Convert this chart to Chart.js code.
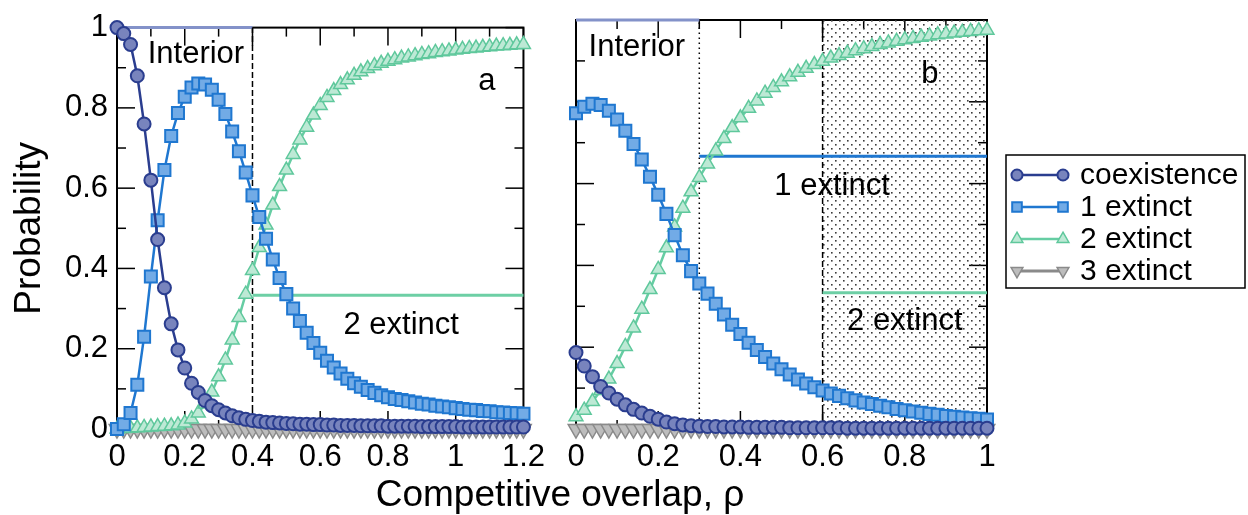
<!DOCTYPE html>
<html>
<head>
<meta charset="utf-8">
<script src="https://cdn.jsdelivr.net/npm/chart.js@4.4.1/dist/chart.umd.min.js"></script>
<style>
  body { margin: 0; background: #fff; }
  #wrap { position: relative; width: 1248px; height: 515px; overflow: hidden; }
  canvas { position: absolute; top: 0; }
  #xtitle { position: absolute; left: 0; width: 1120px; top: 475px; text-align: center;
            font: 37px "Liberation Sans", Arial, sans-serif; line-height: 37px; color: #000; }
</style>
</head>
<body>
<div id="wrap">
  <canvas id="chartA" width="555" height="515" style="left:0"></canvas>
  <canvas id="chartB" width="693" height="515" style="left:555px"></canvas>
  <div id="xtitle">Competitive overlap, ρ</div>
</div>
<script>
// panel a: rho from 0 to 1.2
const xA = [0,0.02,0.04,0.06,0.08,0.1,0.12,0.14,0.16,0.18,0.2,0.22,0.24,0.26,0.28,0.3,0.32,0.34,0.36,0.38,
  0.4,0.42,0.44,0.46,0.48,0.5,0.52,0.54,0.56,0.58,0.6,0.62,0.64,0.66,0.68,0.7,0.72,0.74,0.76,0.78,
  0.8,0.82,0.84,0.86,0.88,0.9,0.92,0.94,0.96,0.98,1,1.02,1.04,1.06,1.08,1.1,1.12,1.14,1.16,1.18,1.2];
const coexA = [1.0,0.985,0.958,0.88,0.76,0.62,0.472,0.352,0.262,0.197,
  0.152,0.114,0.091,0.071,0.058,0.048,0.04,0.033,0.028,0.024,
  0.021,0.019,0.017,0.016,0.015,0.014,0.013,0.012,0.012,0.011,
  0.011,0.01,0.01,0.009,0.009,0.009,0.008,0.008,0.008,0.008,
  0.007,0.007,0.007,0.007,0.007,0.006,0.006,0.006,0.006,0.006,
  0.006,0.005,0.005,0.005,0.005,0.005,0.005,0.005,0.005,0.005,0.005];
const ext1A = [0,0.012,0.04,0.11,0.23,0.38,0.52,0.645,0.73,0.787,
  0.828,0.851,0.861,0.858,0.845,0.82,0.785,0.741,0.692,0.639,
  0.582,0.528,0.474,0.422,0.376,0.336,0.3,0.269,0.24,0.214,
  0.19,0.17,0.153,0.138,0.125,0.114,0.105,0.097,0.09,0.084,
  0.079,0.075,0.072,0.069,0.066,0.063,0.061,0.058,0.056,0.054,
  0.052,0.05,0.048,0.047,0.045,0.044,0.042,0.041,0.04,0.039,0.038];
const ext2A = [0,0.001,0.002,0.003,0.004,0.005,0.006,0.007,0.008,0.01,
  0.015,0.025,0.04,0.062,0.092,0.13,0.172,0.222,0.278,0.336,
  0.395,0.452,0.508,0.558,0.604,0.645,0.684,0.72,0.752,0.782,
  0.806,0.826,0.843,0.858,0.87,0.881,0.89,0.898,0.905,0.911,
  0.916,0.92,0.924,0.927,0.93,0.933,0.935,0.938,0.94,0.942,
  0.944,0.946,0.948,0.949,0.951,0.952,0.954,0.955,0.956,0.957,0.958];
const ext3A = [0,0,0,0,0,0,0,0,0,0,0,0,0,0,0,0,0,0,0,0,0,0,0,0,0,0,0,0,0,0,
  0,0,0,0,0,0,0,0,0,0,0,0,0,0,0,0,0,0,0,0,0,0,0,0,0,0,0,0,0,0,0];

// panel b: rho from 0 to 1
const xB = [0,0.02,0.04,0.06,0.08,0.1,0.12,0.14,0.16,0.18,0.2,0.22,0.24,0.26,0.28,0.3,0.32,0.34,0.36,0.38,
  0.4,0.42,0.44,0.46,0.48,0.5,0.52,0.54,0.56,0.58,0.6,0.62,0.64,0.66,0.68,0.7,0.72,0.74,0.76,0.78,
  0.8,0.82,0.84,0.86,0.88,0.9,0.92,0.94,0.96,0.98,1];
const coexB = [0.187,0.154,0.128,0.104,0.088,0.073,0.059,0.048,0.039,0.031,
  0.024,0.017,0.013,0.01,0.008,0.007,0.006,0.006,0.005,0.005,
  0.005,0.004,0.004,0.004,0.004,0.004,0.003,0.003,0.003,0.003,
  0.003,0.003,0.003,0.002,0.002,0.002,0.002,0.002,0.002,0.002,
  0.002,0.002,0.002,0.002,0.002,0.002,0.002,0.002,0.002,0.002,0.002];
const ext1B = [0.772,0.788,0.795,0.792,0.778,0.757,0.729,0.697,0.659,0.617,
  0.573,0.526,0.474,0.425,0.386,0.356,0.331,0.306,0.28,0.255,
  0.232,0.211,0.193,0.176,0.16,0.146,0.133,0.121,0.111,0.102,
  0.094,0.087,0.081,0.075,0.07,0.065,0.061,0.057,0.053,0.049,
  0.046,0.043,0.04,0.037,0.035,0.032,0.03,0.028,0.026,0.025,0.023];
const ext2B = [0.03,0.046,0.067,0.094,0.122,0.16,0.202,0.247,0.293,0.341,
  0.39,0.443,0.494,0.54,0.58,0.615,0.648,0.68,0.71,0.737,
  0.761,0.784,0.802,0.821,0.835,0.849,0.861,0.872,0.882,0.891,
  0.899,0.907,0.913,0.919,0.925,0.93,0.935,0.94,0.944,0.948,
  0.952,0.955,0.958,0.961,0.964,0.966,0.968,0.97,0.972,0.974,0.975];
const ext3B = [0,0,0,0,0,0,0,0,0,0,0,0,0,0,0,0,0,0,0,0,0,0,0,0,0,
  0,0,0,0,0,0,0,0,0,0,0,0,0,0,0,0,0,0,0,0,0,0,0,0,0,0];

const seriesNames = ['coexistence', '1 extinct', '2 extinct', '3 extinct'];

// reference lines (rho, probability)
const interiorA = [[0, 1], [0.4, 1]];
const boundA = [[0.4, 0], [0.4, 1]];
const twoExtA = [[0.4, 1/3], [1.2, 1/3]];
const interiorB = [[0, 1], [0.3, 1]];
const dottedB = [[0.3, 0], [0.3, 1]];
const dashedB = [[0.6, 0], [0.6, 1]];
const oneExtB = [[0.3, 2/3], [1, 2/3]];
const twoExtB = [[0.6, 1/3], [1, 1/3]];
const shadeB = [[0.6, 1], [1, 1]];

// ticks
const xTicksA = [0, 0.2, 0.4, 0.6, 0.8, 1, 1.2];
const xMinorA = [0.1, 0.3, 0.5, 0.7, 0.9, 1.1];
const xTicksB = [0, 0.2, 0.4, 0.6, 0.8, 1];
const xMinorB = [0.1, 0.3, 0.5, 0.7, 0.9];
const yTicks = [0, 0.2, 0.4, 0.6, 0.8, 1];
const yMinor = [0.1, 0.3, 0.5, 0.7, 0.9];

const FONT = '"Liberation Sans", Arial, sans-serif';
Chart.defaults.font.family = FONT;
Chart.defaults.color = '#000';

const styles = [
  { borderColor: '#2a3d8f', borderWidth: 2.5, pointStyle: 'circle', pointRadius: 6.5, pointRotation: 0,
    pointBackgroundColor: '#7884bd', pointBorderColor: '#2a3d8f', pointBorderWidth: 2 },
  { borderColor: '#1f77d0', borderWidth: 2.5, pointStyle: 'rect', pointRadius: 8.5, pointRotation: 0,
    pointBackgroundColor: '#72abe6', pointBorderColor: '#1f77d0', pointBorderWidth: 2 },
  { borderColor: '#66cda3', borderWidth: 2.5, pointStyle: 'triangle', pointRadius: 8, pointRotation: 0,
    pointBackgroundColor: '#bde9d5', pointBorderColor: '#5fc89c', pointBorderWidth: 1.5 },
  { borderColor: '#8a8a8a', borderWidth: 3, pointStyle: 'triangle', pointRadius: 9, pointRotation: 180,
    pointBackgroundColor: '#bdbdbd', pointBorderColor: '#8a8a8a', pointBorderWidth: 1.5 }
];

function pts(xs, ys) {
  return xs.map((x, i) => ({ x: x, y: ys[i] }));
}
function seg(p) {
  return p.map(q => ({ x: q[0], y: q[1] }));
}
function series(xs, list) {
  return list.map((ys, i) => Object.assign({ label: seriesNames[i], data: pts(xs, ys), clip: false, tension: 0 }, styles[i]));
}
function refLine(p, color, width, dash) {
  return { data: seg(p), borderColor: color, borderWidth: width, borderDash: dash || [],
           pointRadius: 0, clip: false, fill: false };
}

function dotPattern() {
  const c = document.createElement('canvas');
  c.width = 8; c.height = 8;
  const g = c.getContext('2d');
  g.fillStyle = '#3c3c3c';
  g.fillRect(0, 0, 1.6, 1.6);
  g.fillRect(4, 4, 1.6, 1.6);
  return g.createPattern(c, 'repeat');
}

// frame plus inward ticks on all four sides
const frameTicks = {
  id: 'frameTicks',
  beforeDatasetsDraw(chart, args, o) {
    const { ctx, chartArea: a, scales: { x, y } } = chart;
    ctx.save();
    ctx.strokeStyle = '#000';
    ctx.lineWidth = 1.5;
    const line = (x1, y1, x2, y2) => { ctx.beginPath(); ctx.moveTo(x1, y1); ctx.lineTo(x2, y2); ctx.stroke(); };
    const xt = (vals, len) => vals.forEach(v => {
      const px = x.getPixelForValue(v);
      line(px, a.bottom, px, a.bottom - len);
      line(px, a.top, px, a.top + len);
    });
    const yt = (vals, len) => vals.forEach(v => {
      const py = y.getPixelForValue(v);
      line(a.left, py, a.left + len, py);
      line(a.right, py, a.right - len, py);
    });
    xt(o.xMajor, 18); xt(o.xMinor, 9);
    yt(yTicks, 18); yt(yMinor, 9);
    ctx.lineWidth = 2;
    ctx.strokeRect(a.left, a.top, a.right - a.left, a.bottom - a.top);
    ctx.restore();
  }
};

// text labels placed in data coordinates
const notes = {
  id: 'notes',
  afterDatasetsDraw(chart, args, o) {
    const { ctx, scales: { x, y } } = chart;
    ctx.save();
    ctx.fillStyle = '#000';
    ctx.textAlign = 'center';
    ctx.textBaseline = 'middle';
    ctx.font = '31px ' + FONT;
    o.items.forEach(t => ctx.fillText(t[0], x.getPixelForValue(t[1]), y.getPixelForValue(t[2])));
    ctx.restore();
  }
};

const boxLegend = {
  id: 'boxLegend',
  afterDraw(chart, args, o) {
    if (!o.show) return;
    const ctx = chart.ctx;
    ctx.save();
    ctx.lineWidth = 1.5;
    ctx.strokeStyle = '#000';
    ctx.strokeRect(o.left, o.top, o.width, o.height);
    ctx.font = '30px ' + FONT;
    ctx.textBaseline = 'middle';
    ctx.textAlign = 'left';
    seriesNames.forEach((name, i) => {
      const s = styles[i];
      const yy = o.top + o.first + i * o.step;
      const x1 = o.left + 11, x2 = o.left + 57;
      ctx.strokeStyle = s.borderColor;
      ctx.lineWidth = s.borderWidth;
      ctx.beginPath(); ctx.moveTo(x1, yy); ctx.lineTo(x2, yy); ctx.stroke();
      ctx.fillStyle = s.pointBackgroundColor;
      ctx.strokeStyle = s.pointBorderColor;
      ctx.lineWidth = s.pointBorderWidth;
      const r = Math.min(s.pointRadius, 8) * 0.85;
      const opt = { pointStyle: s.pointStyle, rotation: s.pointRotation, radius: r, borderWidth: s.pointBorderWidth };
      Chart.helpers.drawPoint(ctx, opt, x1, yy);
      Chart.helpers.drawPoint(ctx, opt, x2, yy);
      ctx.fillStyle = '#000';
      ctx.fillText(name, o.left + 74, yy + 1);
    });
    ctx.restore();
  }
};

function makeChart(id, opts) {
  const datasets = series(opts.xs, opts.ys).concat(opts.extra);
  return new Chart(document.getElementById(id), {
    type: 'line',
    data: { datasets: datasets },
    plugins: [frameTicks, notes, boxLegend],
    options: {
      responsive: false,
      animation: false,
      layout: { padding: opts.padding },
      plugins: {
        legend: { display: false },
        tooltip: { enabled: false },
        frameTicks: { xMajor: opts.xMajor, xMinor: opts.xMinor },
        notes: { items: opts.notes },
        boxLegend: opts.legend
      },
      scales: {
        x: {
          type: 'linear', min: 0, max: opts.xMax,
          grid: { display: false, drawTicks: false },
          border: { display: false },
          afterBuildTicks: s => { s.ticks = opts.xMajor.map(v => ({ value: v })); },
          afterFit: s => { s.height = 86; },
          ticks: { font: { size: 31 }, padding: 10, maxRotation: 0, autoSkip: false, callback: v => String(v) }
        },
        y: {
          type: 'linear', min: 0, max: 1,
          grid: { display: false, drawTicks: false },
          border: { display: false },
          afterBuildTicks: s => { s.ticks = yTicks.map(v => ({ value: v })); },
          afterFit: s => { s.width = opts.yWidth; },
          ticks: { display: opts.showY, font: { size: 31 }, padding: 9, callback: v => String(v) },
          title: { display: opts.showY, text: 'Probability', font: { size: 37 }, padding: { top: 8, bottom: 0 } }
        }
      }
    }
  });
}

const pattern = dotPattern();

makeChart('chartA', {
  xs: xA, ys: [coexA, ext1A, ext2A, ext3A], xMax: 1.2,
  xMajor: xTicksA, xMinor: xMinorA, showY: true, yWidth: 117,
  padding: { top: 20, right: 26, left: 0, bottom: 0 },
  extra: [
    refLine(twoExtA, '#6dcfa5', 3),
    refLine(boundA, '#000', 1.5, [6, 3]),
    refLine(interiorA, '#8392c9', 3)
  ],
  notes: [['Interior', 0.233, 0.934], ['a', 1.092, 0.866], ['2 extinct', 0.839, 0.259]],
  legend: { show: false }
});

makeChart('chartB', {
  xs: xB, ys: [coexB, ext1B, ext2B, ext3B], xMax: 1,
  xMajor: xTicksB, xMinor: xMinorB, showY: false, yWidth: 21,
  padding: { top: 20, right: 261, left: 0, bottom: 0 },
  extra: [
    refLine(oneExtB, '#1f77d0', 3),
    refLine(twoExtB, '#6dcfa5', 3),
    refLine(dottedB, '#000', 1.5, [1.5, 3.5]),
    refLine(dashedB, '#000', 1.5, [6, 3]),
    refLine(interiorB, '#8392c9', 3),
    { data: seg(shadeB), borderWidth: 0, pointRadius: 0, fill: 'origin', backgroundColor: pattern, clip: false }
  ],
  notes: [['Interior', 0.148, 0.934], ['1 extinct', 0.623, 0.594], ['b', 0.861, 0.866], ['2 extinct', 0.80, 0.262]],
  legend: { show: true, left: 451, top: 155, width: 239, height: 133, first: 20, step: 32 }
});
</script>
</body>
</html>
